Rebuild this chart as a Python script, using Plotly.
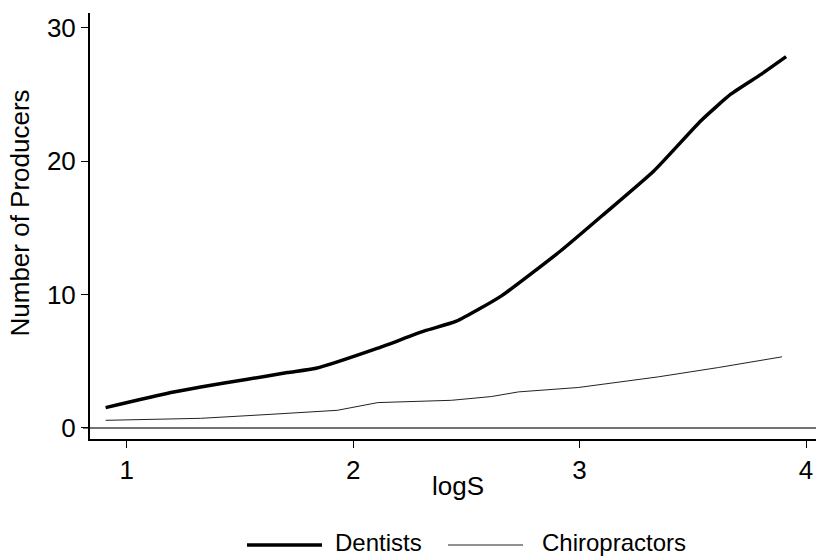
import plotly.graph_objects as go

# Data
dent_x = [0.907, 1.195, 1.327, 1.534, 1.71, 1.836, 2.109, 2.315, 2.456, 2.655, 2.917, 3.108, 3.329, 3.536, 3.669, 3.801, 3.912]
dent_y = [1.52, 2.65, 3.07, 3.65, 4.15, 4.47, 5.98, 7.27, 8.0, 9.9, 13.28, 16.03, 19.28, 23.03, 25.03, 26.5, 27.83]

chiro_x = [0.907, 1.327, 1.637, 1.93, 2.109, 2.315, 2.434, 2.61, 2.73, 2.994, 3.348, 3.614, 3.894]
chiro_y = [0.57, 0.72, 1.02, 1.32, 1.9, 2.03, 2.07, 2.35, 2.7, 3.03, 3.83, 4.53, 5.33]

x_ticks = [1, 2, 3, 4]
y_ticks = [0, 10, 20, 30]
series_names = ["Dentists", "Chiropractors"]

W, H = 816, 557
L, R, T, B = 90, 0, 13, 118
PW = W - L - R
PH = H - T - B

def px_x(p):
    return (p - L) / PW

def px_y(p):
    return (H - B - p) / PH

FONT = "Liberation Sans, Arial, sans-serif"

fig = go.Figure()
fig.add_trace(go.Scatter(x=dent_x, y=dent_y, mode="lines", name=series_names[0],
                         line=dict(color="black", width=3.5, shape="spline", smoothing=0.5),
                         showlegend=False))
fig.add_trace(go.Scatter(x=chiro_x, y=chiro_y, mode="lines", name=series_names[1],
                         line=dict(color="#222222", width=1), showlegend=False))

shapes = [
    # zero reference line
    dict(type="line", xref="paper", yref="y", x0=px_x(83), x1=1, y0=0, y1=0,
         line=dict(color="#444444", width=1.5), layer="below"),
    # legend lines
    dict(type="line", xref="paper", yref="paper", x0=px_x(247), x1=px_x(322),
         y0=px_y(545), y1=px_y(545), line=dict(color="black", width=3.5)),
    dict(type="line", xref="paper", yref="paper", x0=px_x(448), x1=px_x(523),
         y0=px_y(545), y1=px_y(545), line=dict(color="#222222", width=1)),
]

annotations = [
    dict(text="Number of Producers", xref="paper", yref="paper", x=px_x(20), y=px_y(213.5),
         xanchor="center", yanchor="middle", textangle=-90, showarrow=False,
         font=dict(family=FONT, size=26, color="black")),
    dict(text="logS", xref="paper", yref="paper", x=px_x(457.5), y=px_y(486),
         xanchor="center", yanchor="middle", showarrow=False,
         font=dict(family=FONT, size=26, color="black")),
    dict(text=series_names[0], xref="paper", yref="paper", x=px_x(334), y=px_y(557),
         xanchor="left", yanchor="bottom", showarrow=False, borderpad=0,
         font=dict(family=FONT, size=24, color="black")),
    dict(text=series_names[1], xref="paper", yref="paper", x=px_x(541), y=px_y(557),
         xanchor="left", yanchor="bottom", showarrow=False, borderpad=0,
         font=dict(family=FONT, size=24, color="black")),
]

fig.update_layout(
    width=W, height=H,
    margin=dict(l=L, r=R, t=T, b=B, pad=0),
    paper_bgcolor="white", plot_bgcolor="white",
    font=dict(family=FONT, size=26, color="black"),
    shapes=shapes, annotations=annotations,
    showlegend=False,
)
fig.update_xaxes(range=[0.838, 4.044], tickvals=x_ticks, ticks="outside", ticklen=7,
                 tickwidth=1, tickcolor="black", showline=True, linecolor="black",
                 linewidth=2, showgrid=False, zeroline=False,
                 tickfont=dict(family=FONT, size=26, color="black"))
fig.update_yaxes(range=[-0.83, 31.1], tickvals=y_ticks, ticks="outside", ticklen=7,
                 tickwidth=1, tickcolor="black", showline=True, linecolor="black",
                 linewidth=2, showgrid=False, zeroline=False,
                 tickfont=dict(family=FONT, size=26, color="black"))

fig.write_html("out.html", config={"displayModeBar": False},
               post_script="document.body.style.margin='0';document.body.style.padding='0';document.body.style.overflow='hidden';")
